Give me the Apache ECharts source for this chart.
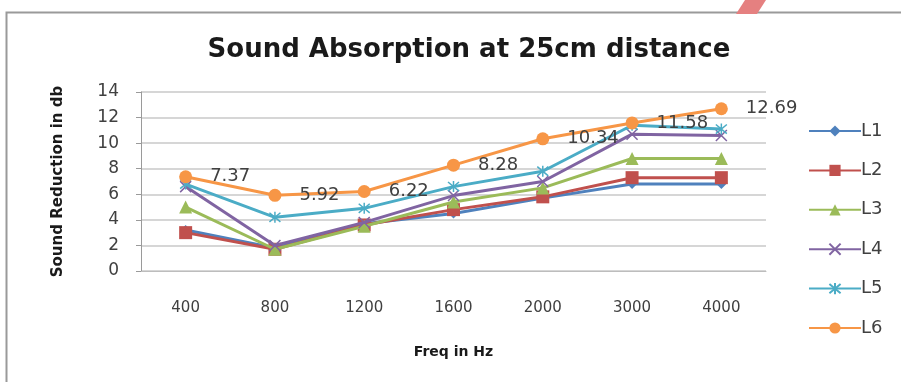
<!DOCTYPE html>
<html><head><meta charset="utf-8">
<script src="https://cdn.jsdelivr.net/npm/echarts@6/dist/echarts.min.js"></script>
<style>html,body{margin:0;padding:0;background:#fff}#c{width:901px;height:382px}</style>
</head><body><div id="c"></div>
<script>
const categories = ['400','800','1200','1600','2000','3000','4000'];
const seriesNames = ['L1','L2','L3','L4','L5','L6'];
const L1 = [3.2, 1.8, 3.7, 4.5, 5.7, 6.8, 6.8];
const L2 = [3.0, 1.7, 3.6, 4.8, 5.8, 7.3, 7.3];
const L3 = [5.0, 1.7, 3.5, 5.4, 6.5, 8.8, 8.8];
const L4 = [6.6, 2.0, 3.8, 5.9, 7.0, 10.7, 10.6];
const L5 = [6.8, 4.2, 4.9, 6.6, 7.8, 11.4, 11.1];
const L6 = [7.37, 5.92, 6.22, 8.28, 10.34, 11.58, 12.69];
const yTicks = [0, 2, 4, 6, 8, 10, 12, 14];

const colors = ['#4F81BD','#C0504D','#9BBB59','#8064A2','#4BACC6','#F79646'];
const symbols = ['diamond','rect','triangle','path://M0,0L10,10M10,0L0,10','path://M0,0L10,10M10,0L0,10M5,-1L5,11','circle'];
const sizes = [10, 13, 13, 11, 11, 13];
const data = [L1, L2, L3, L4, L5, L6];
const FONT = 'DejaVu Sans';

const series = data.map((d, i) => {
  const isPath = symbols[i].startsWith('path');
  const s = {
    name: seriesNames[i], type: 'line', data: d,
    symbol: symbols[i], symbolSize: sizes[i],
    lineStyle: {color: colors[i], width: 3},
    itemStyle: isPath ? {color: colors[i], borderColor: colors[i], borderWidth: 1.5} : {color: colors[i], borderColor: colors[i], borderWidth: 0},
    emphasis: {disabled: true}, z: 2 + i
  };
  if (i === 5) {
    s.label = {show: true, position: 'right', distance: 18, color: '#404040', fontFamily: FONT, fontSize: 18,
      formatter: p => p.value.toFixed(2)};
  }
  return s;
});

const chart = echarts.init(document.getElementById('c'), null, {renderer: 'canvas'});
chart.setOption({
  animation: false,
  backgroundColor: '#fff',
  graphic: [
    {type: 'rect', shape: {x: 6.5, y: 12.5, width: 900, height: 380}, style: {fill: 'none', stroke: '#9a9a9a', lineWidth: 2}, z: -1},
    {type: 'polygon', shape: {points: [[745,0],[766,0],[757,14],[736,14]]}, style: {fill: '#E58080'}, z: 10}
  ],
  title: {text: 'Sound Absorption at 25cm distance', left: 464, textAlign: 'center', top: 32,
    textStyle: {fontFamily: FONT, fontSize: 26, fontWeight: 'bold', color: '#1a1a1a'}},
  legend: {orient: 'vertical', left: 808, top: 122, padding: 0, itemWidth: 52, itemHeight: 14, itemGap: 21.4,
    textStyle: {fontFamily: FONT, fontSize: 18, color: '#404040', padding: [0,0,0,-5]},
    data: seriesNames},
  grid: {left: 141, right: 135, top: 92, bottom: 111, containLabel: false},
  xAxis: {type: 'category', data: categories, boundaryGap: true,
    name: 'Freq in Hz', nameLocation: 'middle', nameGap: 74,
    nameTextStyle: {fontFamily: FONT, fontSize: 14, fontWeight: 'bold', color: '#1a1a1a'},
    axisLine: {show: true, lineStyle: {color: '#bdbdbd', width: 1}},
    axisTick: {show: false},
    axisLabel: {margin: 30, fontFamily: FONT, fontSize: 15, color: '#404040'}},
  yAxis: {type: 'value', min: yTicks[0], max: yTicks[yTicks.length-1], interval: 2,
    name: 'Sound Reduction in db', nameLocation: 'middle', nameGap: 75, nameRotate: 90,
    nameTextStyle: {fontFamily: FONT, fontSize: 15, fontWeight: 'bold', color: '#1a1a1a'},
    axisLine: {show: true, lineStyle: {color: '#9a9a9a', width: 1}},
    axisTick: {show: true, length: 5, lineStyle: {color: '#9a9a9a'}},
    splitLine: {show: true, lineStyle: {color: '#c8c8c8', width: 1.5}},
    axisLabel: {margin: 22, fontFamily: FONT, fontSize: 17, color: '#404040'}},
  series: series
});
</script></body></html>
